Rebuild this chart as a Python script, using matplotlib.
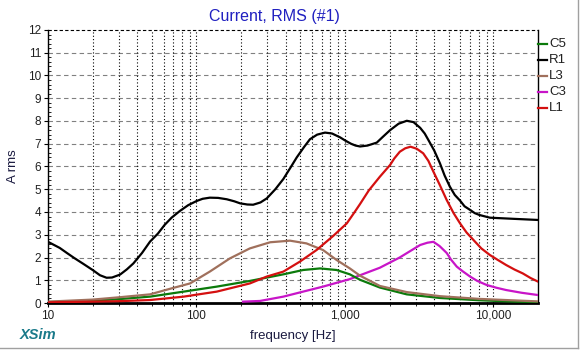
import numpy as np
import matplotlib
matplotlib.use("Agg")
import matplotlib.pyplot as plt
from matplotlib.lines import Line2D
from matplotlib.ticker import FixedLocator, FuncFormatter, NullFormatter

plt.rcParams['font.family'] = ['Liberation Sans', 'DejaVu Sans']

#%% data
r1_f = [10, 12, 13.4, 15, 17.3, 20, 22.4, 24.8, 27, 30.6, 34, 37.6, 43, 48.7, 55, 61, 68,
        77.5, 88, 100, 110, 123, 140, 160, 180, 197, 220, 241, 270, 298, 340, 385, 430,
        474, 530, 582, 650, 735, 820, 929, 1000, 1100, 1180, 1265, 1420, 1640, 1800,
        2018, 2300, 2613, 2900, 3215, 3450, 3700, 4000, 4370, 4700, 5100, 5500, 5970,
        6400, 6980, 7500, 8050, 9480, 13670, 20000]
r1_a = [2.69, 2.42, 2.2, 1.98, 1.72, 1.45, 1.22, 1.11, 1.12, 1.25, 1.48, 1.74, 2.2, 2.7,
        3.05, 3.43, 3.75, 4.05, 4.3, 4.48, 4.58, 4.63, 4.62, 4.56, 4.47, 4.38, 4.33, 4.32,
        4.42, 4.6, 5.0, 5.45, 5.95, 6.4, 6.85, 7.2, 7.4, 7.49, 7.45, 7.28, 7.15, 7.0,
        6.92, 6.88, 6.92, 7.05, 7.3, 7.6, 7.88, 8.01, 7.95, 7.7, 7.45, 7.1, 6.7, 6.14,
        5.6, 5.11, 4.75, 4.5, 4.25, 4.09, 3.95, 3.87, 3.75, 3.7, 3.65]

l1_f = [10, 20, 30, 48.7, 82, 137, 229, 297, 385, 498, 645, 835, 1030, 1150, 1265, 1450,
        1720, 2018, 2150, 2345, 2550, 2770, 3050, 3370, 3650, 3950, 4350, 4850, 5400,
        5970, 6600, 7350, 8300, 9480, 10800, 12200, 13900, 15800, 17800, 20000]
l1_a = [0.03, 0.06, 0.08, 0.13, 0.28, 0.5, 0.86, 1.16, 1.38, 1.82, 2.33, 2.95, 3.5,
        3.95, 4.35, 4.95, 5.55, 6.07, 6.35, 6.65, 6.8, 6.87, 6.78, 6.58, 6.25, 5.77, 5.2,
        4.53, 3.95, 3.5, 3.1, 2.77, 2.4, 2.11, 1.88, 1.67, 1.47, 1.3, 1.1, 0.94]

l3_f = [10, 20, 30, 48.7, 66, 90.5, 123, 168, 229, 314, 427, 551, 712, 880, 1080, 1265,
        1720, 2610, 4370, 8050, 20000]
l3_a = [0.06, 0.15, 0.25, 0.38, 0.62, 0.86, 1.38, 1.96, 2.4, 2.67, 2.74, 2.62, 2.33,
        1.89, 1.52, 1.2, 0.75, 0.48, 0.3, 0.18, 0.07]

c5_f = [10, 20, 30, 48.7, 82, 137, 229, 385, 523, 680, 880, 1080, 1265, 1720, 2610,
        4370, 8050, 14000, 20000]
c5_a = [0.04, 0.1, 0.17, 0.28, 0.5, 0.72, 0.97, 1.26, 1.45, 1.52, 1.45, 1.26, 1.02,
        0.68, 0.38, 0.22, 0.12, 0.06, 0.04]

c3_f = [206, 268, 385, 523, 712, 1080, 1265, 1720, 2340, 3215, 3600, 3950, 4350, 4850,
        5200, 5670, 6200, 6980, 7800, 9040, 10500, 12200, 15500, 20000]
c3_a = [0.06, 0.09, 0.28, 0.5, 0.72, 1.05, 1.22, 1.55, 2.0, 2.55, 2.65, 2.69, 2.5, 2.2,
        1.9, 1.6, 1.4, 1.16, 0.97, 0.79, 0.67, 0.57, 0.45, 0.35]

legend_names = ['C5', 'R1', 'L3', 'C3', 'L1']
legend_colors = ['#0b7a0b', '#000000', '#a0705c', '#c815c8', '#d41010']

#%% figure
W, H = 581, 351
fig = plt.figure(figsize=(W / 100, H / 100), dpi=100)
ax = fig.add_axes([48 / W, (H - 303) / H, 490 / W, 273 / H])

series = [(c3_f, c3_a, '#c815c8'), (c5_f, c5_a, '#0b7a0b'), (l3_f, l3_a, '#a0705c'),
          (l1_f, l1_a, '#d41010'), (r1_f, r1_a, '#000000')]
for f, a, c in series:
    ax.plot(f, a, color=c, lw=1.6, zorder=3, solid_joinstyle='round')

ax.set_xscale('log')
ax.set_xlim(10, 20000)
ax.set_ylim(0, 12)

ax.xaxis.set_major_locator(FixedLocator([10, 100, 1000, 10000]))
ax.xaxis.set_major_formatter(FuncFormatter(lambda v, p: '{:,.0f}'.format(v)))
minors = [m * 10 ** e for e in range(1, 5) for m in range(2, 10) if m * 10 ** e < 20000]
ax.xaxis.set_minor_locator(FixedLocator(minors))
ax.xaxis.set_minor_formatter(NullFormatter())
ax.set_yticks(range(0, 13))
ax.yaxis.set_minor_locator(FixedLocator(np.arange(0, 12, 0.2)))

ax.tick_params(axis='both', which='major', labelsize=8.5, labelcolor='#202020',
               length=3, width=0.8, pad=2)
ax.tick_params(axis='y', which='minor', length=2, width=0.6, direction='in')
ax.tick_params(axis='x', which='minor', length=2, width=0.6)

# grid
for v in range(1, 12):
    ax.axhline(v, color='#808080', lw=0.8, ls=(0, (4, 3)), zorder=1)
ax.axhline(12, color='#000000', lw=0.8, ls=(0, (3, 2)), zorder=1, clip_on=False)
for v in [10, 100, 1000, 10000] + minors:
    ax.axvline(v, color='#000000', lw=0.8, ls=(0, (1, 2)), zorder=1)

ax.spines['top'].set_visible(False)
ax.spines['bottom'].set_linewidth(2)
ax.spines['left'].set_linewidth(1)
ax.spines['right'].set_linewidth(1)

ax.set_xlabel('frequency [Hz]', fontsize=9.5, color='#1a1a40', labelpad=6)
ax.set_ylabel('A rms', fontsize=9.5, color='#1a1a40', labelpad=6)

fig.text(274 / W, 1 - 16 / H, 'Current, RMS (#1)', fontsize=11.5, color='#2020c0',
         ha='center', va='center')
fig.text(20 / W, 1 - 335 / H, 'XSim', fontsize=10.5, color='#1a7a8a',
         fontweight='bold', fontstyle='italic', ha='left', va='center')

# legend on the right
for i, (name, col) in enumerate(zip(legend_names, legend_colors)):
    yy = 1 - (44 + 16 * i) / H
    fig.add_artist(Line2D([538 / W, 547 / W], [yy, yy], color=col, lw=1.6))
    fig.text(549 / W, yy, name, fontsize=9.5, color='#202020', ha='left', va='center')

# panel border
fig.add_artist(Line2D([578 / W, 578 / W], [1 - 348 / H, 1], color='#a0a0a0', lw=1))
fig.add_artist(Line2D([0, 578 / W], [1 - 348 / H, 1 - 348 / H], color='#a0a0a0', lw=1))

fig.savefig('out.png', dpi=100)
